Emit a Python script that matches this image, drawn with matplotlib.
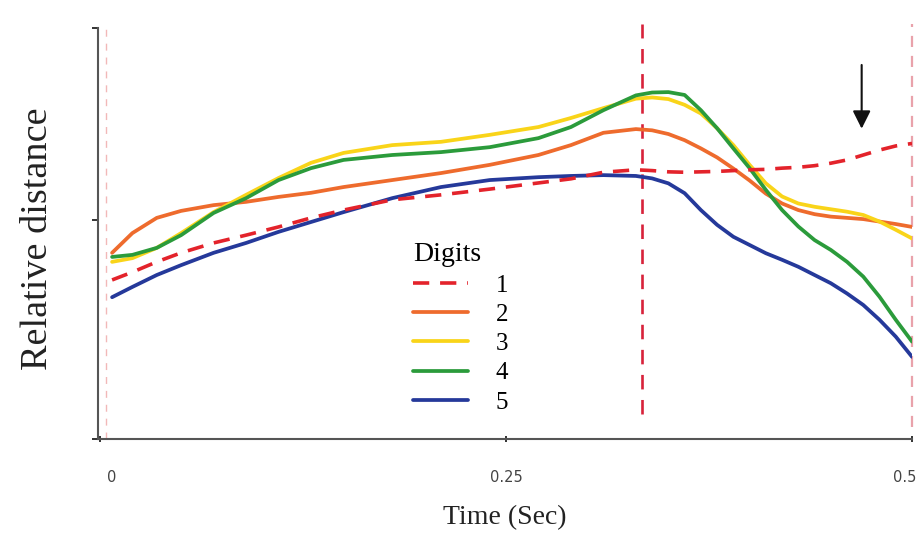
import matplotlib
matplotlib.use("Agg")
import matplotlib.pyplot as plt
from matplotlib.transforms import ScaledTranslation

# time samples (s) shared by all digit traces
time_s = [0.0075, 0.02, 0.035, 0.05, 0.07, 0.09, 0.11, 0.13, 0.15, 0.18, 0.21,
          0.24, 0.27, 0.29, 0.31, 0.33, 0.34, 0.35, 0.36, 0.37, 0.38, 0.39,
          0.40, 0.41, 0.42, 0.43, 0.44, 0.45, 0.46, 0.47, 0.48, 0.49, 0.50]

# relative distance per digit (arbitrary units, 0-100)
digit1 = [38.7, 40.6, 43.1, 45.3, 47.7, 49.6, 51.6, 53.8, 55.7, 58.2, 59.4,
          60.8, 62.3, 63.3, 64.9, 65.5, 65.3, 65.0, 64.9, 65.0, 65.1, 65.3,
          65.5, 65.6, 65.9, 66.1, 66.5, 67.1, 67.9, 69.1, 70.3, 71.3, 71.9]
digit2 = [45.3, 50.1, 53.8, 55.5, 56.9, 57.7, 58.9, 59.9, 61.3, 63.0, 64.7,
          66.7, 69.1, 71.5, 74.5, 75.4, 75.1, 74.2, 72.7, 70.7, 68.5, 65.8,
          62.9, 59.7, 57.3, 55.7, 54.7, 54.1, 53.8, 53.5, 52.9, 52.3, 51.6]
digit3 = [43.1, 44.0, 46.5, 50.1, 55.2, 59.4, 63.5, 67.2, 69.6, 71.5, 72.3,
          74.0, 75.9, 78.1, 80.5, 82.8, 83.1, 82.7, 81.3, 79.2, 75.6, 71.5,
          66.7, 62.2, 59.0, 57.3, 56.5, 55.9, 55.3, 54.5, 52.9, 50.9, 48.8]
digit4 = [44.3, 44.8, 46.5, 49.6, 55.0, 58.6, 63.0, 65.9, 67.9, 69.1, 69.8,
          71.0, 73.2, 75.9, 80.0, 83.6, 84.3, 84.4, 83.7, 80.0, 75.6, 70.7,
          65.9, 60.6, 55.7, 51.7, 48.4, 46.0, 43.1, 39.5, 34.6, 29.0, 23.7]
digit5 = [34.5, 37.0, 39.9, 42.3, 45.3, 47.7, 50.4, 52.8, 55.2, 58.6, 61.3,
          63.0, 63.7, 64.0, 64.2, 64.0, 63.4, 62.2, 59.8, 55.7, 52.1, 49.2,
          47.2, 45.2, 43.6, 41.9, 39.9, 37.9, 35.4, 32.6, 29.0, 24.9, 20.0]

digit_labels = ["1", "2", "3", "4", "5"]
x_ticks = [0, 0.25, 0.5]
x_tick_labels = ["0", "0.25", "0.5"]
y_ticks = [0, 53.3, 100]

# event markers (s)
start_t = 0.004
contact_t = 0.334
end_t = 0.5
arrow_t = 0.469

colors = {"1": "#e3232b", "2": "#ee6b2d", "3": "#f9d419",
          "4": "#2b9b3b", "5": "#25399a"}

fig = plt.figure(figsize=(9.19, 5.38), dpi=100)
ax = fig.add_axes([0.1066, 0.184, 0.8858, 0.764])

# event lines
ax.vlines(start_t, 0, 100, colors="#f2b8b8", linewidth=1.0,
          linestyles=(0, (5, 5)))
ax.vlines(contact_t, 6, 101, colors="#d8223a", linewidth=1.9,
          linestyles=(0, (5.5, 4)), clip_on=False)
ax.vlines(end_t, 3, 101, colors="#e9a2ab", linewidth=1.6,
          linestyles=(0, (5, 4)), clip_on=False)

lw = 2.7
h5, = ax.plot(time_s, digit5, color=colors["5"], lw=lw, solid_capstyle="round")
h2, = ax.plot(time_s, digit2, color=colors["2"], lw=lw, solid_capstyle="round")
h3, = ax.plot(time_s, digit3, color=colors["3"], lw=lw, solid_capstyle="round")
h4, = ax.plot(time_s, digit4, color=colors["4"], lw=lw, solid_capstyle="round")
h1, = ax.plot(time_s, digit1, color=colors["1"], lw=2.6,
              linestyle=(0, (4.5, 3)))

ax.annotate("", xy=(arrow_t, 75.5), xytext=(arrow_t, 91),
            arrowprops=dict(arrowstyle="-|>", color="#111111", lw=1.5,
                            mutation_scale=27, shrinkA=0, shrinkB=0))

ax.set_xlim(-0.0012, 0.5)
ax.set_ylim(0, 100)
ax.set_xticks(x_ticks)
ax.set_xticklabels(x_tick_labels, color="#444444", fontsize=10.5)
ax.set_yticks(y_ticks)
ax.set_yticklabels([])
ax.tick_params(axis="x", direction="inout", length=4, width=1.4,
               color="#333333", pad=20)
ax.tick_params(axis="y", direction="out", length=4, width=1.4,
               color="#333333")

# nudge the end labels inward
shifts = [0.12, 0.0, -0.07]
for lab, dx in zip(ax.get_xticklabels(), shifts):
    lab.set_transform(lab.get_transform()
                      + ScaledTranslation(dx, 0, fig.dpi_scale_trans))

for side in ["top", "right"]:
    ax.spines[side].set_visible(False)
for side in ["left", "bottom"]:
    ax.spines[side].set_color("#555555")
    ax.spines[side].set_linewidth(1.5)

ax.set_xlabel("Time (Sec)", family="Liberation Serif", fontsize=20,
              color="#222222", labelpad=15)
ax.set_ylabel("Relative distance", family="Liberation Serif", fontsize=27.5,
              color="#222222")
ax.yaxis.set_label_coords(-0.053, 0.487)

leg = ax.legend([h1, h2, h3, h4, h5], digit_labels, title="Digits",
                loc="upper left", bbox_to_anchor=(0.375, 0.503),
                frameon=False, prop={"family": "Liberation Serif", "size": 18},
                handlelength=2.2, handletextpad=1.1, labelspacing=0.27,
                alignment="left", borderaxespad=0)
leg.get_title().set_fontfamily("Liberation Serif")
leg.get_title().set_fontsize(20)

fig.savefig("out.png", dpi=100)
